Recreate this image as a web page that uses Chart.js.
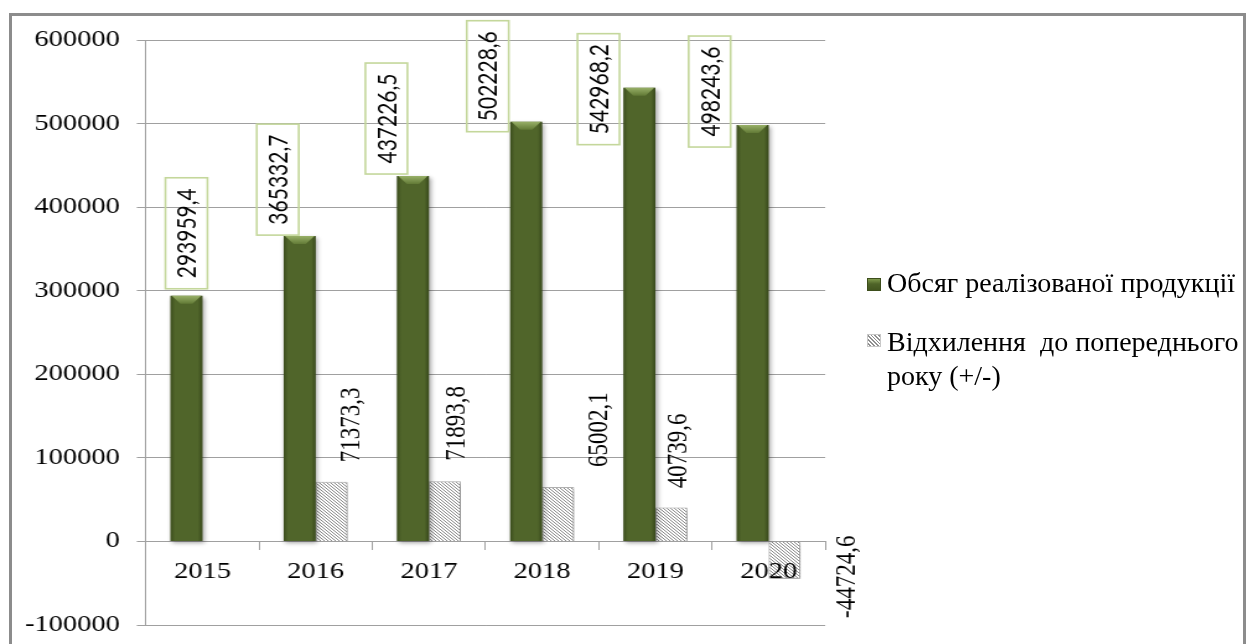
<!DOCTYPE html>
<html>
<head>
<meta charset="utf-8">
<script src="https://cdn.jsdelivr.net/npm/chart.js@4/dist/chart.umd.min.js"></script>
<style>
  html, body { margin: 0; padding: 0; background: #fff; width: 1255px; height: 644px; overflow: hidden; position: relative; }
  #frame { position: absolute; left: 9px; top: 13px; width: 1237px; height: 700px; border: 3px solid #8c8c8c; box-sizing: border-box; }
  #wrap { position: absolute; left: 0; top: 0; width: 1013px; height: 644px; transform: scaleX(1.2389); transform-origin: 0 0; }
  .lg-text { position: absolute; left: 887px; font-family: "Liberation Serif", "Times New Roman", serif; font-size: 28px; line-height: 34px; color: #000; white-space: pre; }
  .sw { position: absolute; width: 14px; height: 13px; box-sizing: border-box; }
  #sw1 { left: 867px; top: 278px; background: linear-gradient(180deg, #7f9a4c 0%, #4f6428 45%, #43561f 100%); border: 1px solid #3d4e1c; }
  #sw2 { left: 867px; top: 334px; background: repeating-linear-gradient(45deg, #fff 0px, #fff 1.4px, #8f8f8f 1.4px, #8f8f8f 2.6px); border: 1px solid #c8c8c8; }
</style>
</head>
<body>
<div id="frame"></div>
<div id="wrap"><canvas id="chart" width="1013" height="644"></canvas></div>
<div class="sw" id="sw1"></div>
<div class="lg-text" style="top:266px">Обсяг реалізованої продукції</div>
<div class="sw" id="sw2"></div>
<div class="lg-text" style="top:325px">Відхилення  до попереднього
року (+/-)</div>
<script>
// Years on the category axis
const years = ['2015', '2016', '2017', '2018', '2019', '2020'];
// Sales volume per year
const salesVolume = [293959.4, 365332.7, 437226.5, 502228.6, 542968.2, 498243.6];
// Change against the previous year (+/-); none for the first year
const changeVsPrevYear = [null, 71373.3, 71893.8, 65002.1, 40739.6, -44724.6];
// Value axis range
const yMin = -100000;
const yMax = 600000;
const yStep = 100000;

const serif = '"Liberation Serif", "Times New Roman", serif';

// Placement of the value callouts relative to the bar end: [dx, dy] in px
const volumeLabelShift = [[0, 7], [-17.7, 1], [-21.4, 2], [-31, -10], [-33, -57], [-34.7, -22]];
const changeLabelShift = [null, [16, -57], [10, -58], [33, -57.5], [5.6, -56.5], [51, -2]];

const fmt = v => v.toFixed(1).replace('.', ',');

// diagonal hatch fill for the change series
function makeHatch() {
  const n = 3;
  const c = document.createElement('canvas');
  c.width = n; c.height = n;
  const g = c.getContext('2d');
  g.fillStyle = '#ffffff';
  g.fillRect(0, 0, n, n);
  g.strokeStyle = '#8a8a8a';
  g.lineWidth = 1;
  g.beginPath();
  for (let k = -n; k <= n; k += n) {
    g.moveTo(k, 0);
    g.lineTo(k + n, n);
  }
  g.stroke();
  return g.createPattern(c, 'repeat');
}

// soft drop shadow under the volume bars, plus bevel shading
const barShadow = {
  id: 'barShadow',
  beforeDatasetDraw(chart, args) {
    const ctx = chart.ctx;
    ctx.save();
    ctx.shadowColor = 'rgba(0,0,0,0.35)';
    ctx.shadowBlur = 4;
    ctx.shadowOffsetX = 1.5;
    ctx.shadowOffsetY = 2;
  },
  afterDatasetDraw(chart, args) {
    const ctx = chart.ctx;
    ctx.restore();
    if (args.index !== 0) return;
    args.meta.data.forEach(bar => {
      const { x, y, base, width } = bar.getProps(['x', 'y', 'base', 'width'], true);
      const l = x - width / 2, r = x + width / 2;
      const side = ctx.createLinearGradient(l, 0, r, 0);
      side.addColorStop(0, 'rgba(20,30,5,0.35)');
      side.addColorStop(0.14, 'rgba(20,30,5,0)');
      side.addColorStop(0.86, 'rgba(20,30,5,0)');
      side.addColorStop(1, 'rgba(20,30,5,0.4)');
      ctx.fillStyle = side;
      ctx.fillRect(l, y, width, base - y);
      const b = Math.min(8, (base - y) / 2);
      const top = ctx.createLinearGradient(0, y, 0, y + b);
      top.addColorStop(0, '#98b068');
      top.addColorStop(1, '#627a36');
      ctx.fillStyle = top;
      ctx.beginPath();
      ctx.moveTo(l + 1, y);
      ctx.lineTo(r - 1, y);
      ctx.lineTo(r - b, y + b);
      ctx.lineTo(l + b, y + b);
      ctx.closePath();
      ctx.fill();
    });
  }
};

// value callouts: boxed for volume, plain for the change series
const valueLabels = {
  id: 'valueLabels',
  afterDraw(chart) {
    const ctx = chart.ctx;
    const m0 = chart.getDatasetMeta(0);
    const m1 = chart.getDatasetMeta(1);
    ctx.save();
    m0.data.forEach((bar, i) => {
      const v = salesVolume[i];
      const [dx, dy] = volumeLabelShift[i];
      const bw = 33.9, bh = 111;
      const cx = bar.x + dx;
      const bottom = bar.y - dy;
      const cy = bottom - bh / 2;
      ctx.strokeStyle = '#c4d79b';
      ctx.lineWidth = 1.6;
      ctx.strokeRect(cx - bw / 2, bottom - bh, bw, bh);
      ctx.save();
      ctx.translate(cx, cy);
      ctx.rotate(-Math.PI / 2);
      ctx.fillStyle = '#000';
      ctx.font = '21px Lato';
      ctx.textAlign = 'center';
      ctx.textBaseline = 'middle';
      ctx.fillText(fmt(v), 0, 1);
      ctx.restore();
    });
    m1.data.forEach((bar, i) => {
      const v = changeVsPrevYear[i];
      if (v === null || !changeLabelShift[i]) return;
      const [dx, dy] = changeLabelShift[i];
      ctx.save();
      ctx.translate(bar.x + dx, bar.y + dy);
      ctx.rotate(-Math.PI / 2);
      ctx.fillStyle = '#000';
      ctx.font = '23px ' + serif;
      ctx.textAlign = 'center';
      ctx.textBaseline = 'middle';
      ctx.fillText(fmt(v), 0, 0);
      ctx.restore();
    });
    ctx.restore();
  }
};

function draw() {
  const ctx = document.getElementById('chart');
  new Chart(ctx, {
    type: 'bar',
    data: {
      labels: years,
      datasets: [
        {
          label: 'Обсяг реалізованої продукції',
          data: salesVolume,
          backgroundColor: '#50652a',
          borderWidth: 0
        },
        {
          label: 'Відхилення до попереднього року (+/-)',
          data: changeVsPrevYear,
          backgroundColor: makeHatch(),
          borderColor: '#b8b8b8',
          borderWidth: 1
        }
      ]
    },
    options: {
      responsive: false,
      animation: false,
      devicePixelRatio: 1,
      categoryPercentage: 0.565,
      barPercentage: 1,
      layout: { padding: { left: 0, top: 40, right: 346.9, bottom: 19 } },
      plugins: {
        legend: { display: false },
        tooltip: { enabled: false }
      },
      scales: {
        x: {
          position: { y: 0 },
          afterFit(scale) { scale.height = 0; scale.paddingLeft = 0; scale.paddingRight = 0; scale.paddingBottom = 0; },
          grid: {
            offset: true,
            drawOnChartArea: false,
            drawTicks: true,
            tickLength: 8,
            color: '#a0a0a0'
          },
          border: { display: true, color: '#a0a0a0', width: 1 },
          ticks: {
            z: 1,
            color: '#000',
            font: { family: serif, size: 23 },
            padding: 9,
            maxRotation: 0
          }
        },
        y: {
          min: yMin,
          max: yMax,
          afterFit(scale) { scale.width = 117.7; scale.paddingTop = 0; scale.paddingBottom = 0; },
          ticks: {
            stepSize: yStep,
            color: '#000',
            font: { family: serif, size: 23 },
            padding: 13.6,
            callback: v => String(v)
          },
          grid: {
            color: '#a0a0a0',
            lineWidth: 1,
            tickLength: 7.3,
            drawTicks: true
          },
          border: { display: true, color: '#a0a0a0', width: 1 }
        }
      }
    },
    plugins: [barShadow, valueLabels]
  });
}

Promise.all([
  document.fonts.load('23px "Liberation Serif"'),
  document.fonts.load('21px Lato')
]).then(draw, draw);
</script>
</body>
</html>
